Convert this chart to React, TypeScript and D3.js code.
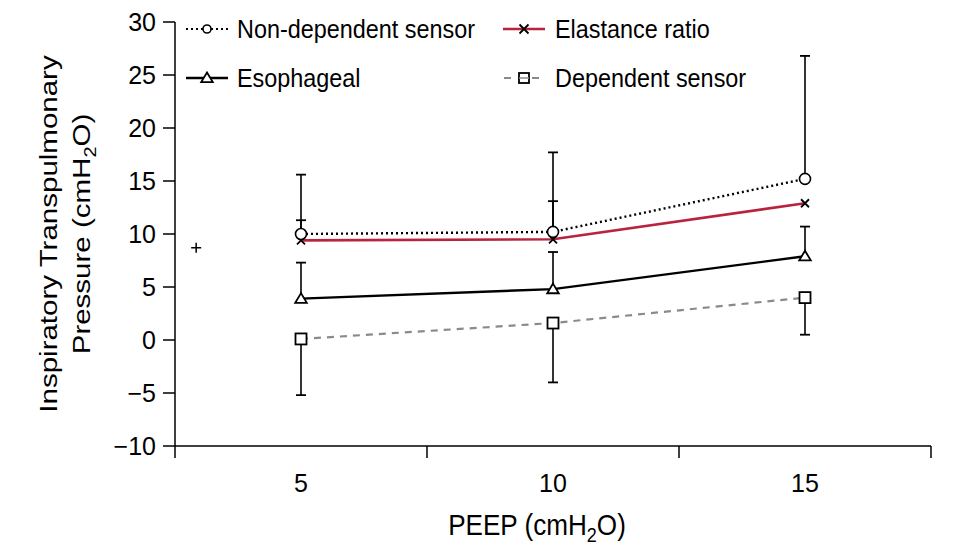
import React from "react";
import * as d3 from "d3";

const peep = [5, 10, 15];
const nonDependent = [10.0, 10.2, 15.2];
const nonDependentErrUp = [5.6, 7.5, 11.6];
const elastance = [9.4, 9.5, 12.9];
const elastanceErrUp = [1.9, 3.6, 0];
const esophageal = [3.9, 4.8, 7.9];
const esophagealErrUp = [3.4, 3.5, 2.8];
const dependent = [0.1, 1.6, 4.0];
const dependentErrDown = [5.3, 5.6, 3.5];
const yTicks = [-10, -5, 0, 5, 10, 15, 20, 25, 30];
const xBoundaryTicks = [2.5, 7.5, 12.5, 17.5];
const strayMark = { x: 2.92, y: 8.7 };

const W = 960;
const H = 555;
const FONT = "'Liberation Sans', Arial, Helvetica, sans-serif";
const RED = "#b8233d";
const GRAY = "#8a8a8a";

export default function App() {
  const x = d3.scaleLinear().domain([2.5, 17.5]).range([175, 931]);
  const y = d3.scaleLinear().domain([-10, 30]).range([446, 22]);

  const line = (vals: number[]) =>
    d3
      .line<number>()
      .x((_, i) => x(peep[i]))
      .y((v) => y(v))(vals) as string;

  const errBars: { xv: number; y0: number; y1: number }[] = [];
  peep.forEach((p, i) => {
    errBars.push({ xv: p, y0: nonDependent[i], y1: nonDependent[i] + nonDependentErrUp[i] });
    if (elastanceErrUp[i] > 0)
      errBars.push({ xv: p, y0: elastance[i], y1: elastance[i] + elastanceErrUp[i] });
    errBars.push({ xv: p, y0: esophageal[i], y1: esophageal[i] + esophagealErrUp[i] });
    errBars.push({ xv: p, y0: dependent[i], y1: dependent[i] - dependentErrDown[i] });
  });

  const circle = (cx: number, cy: number, r: number) => (
    <circle cx={cx} cy={cy} r={r} fill="white" stroke="black" strokeWidth={1.6} />
  );
  const cross = (cx: number, cy: number, s: number, color = "black") => (
    <path
      d={`M${cx - s},${cy - s}L${cx + s},${cy + s}M${cx - s},${cy + s}L${cx + s},${cy - s}`}
      stroke={color}
      strokeWidth={1.8}
      fill="none"
    />
  );
  const tri = (cx: number, cy: number, s: number) => (
    <path
      d={`M${cx},${cy - s}L${cx + s * 1.05},${cy + s * 0.75}L${cx - s * 1.05},${cy + s * 0.75}Z`}
      fill="white"
      stroke="black"
      strokeWidth={1.8}
    />
  );
  const square = (cx: number, cy: number, s: number) => (
    <rect x={cx - s} y={cy - s} width={2 * s} height={2 * s} fill="white" stroke="black" strokeWidth={1.8} />
  );
  const sText = (
    tx: number,
    ty: number,
    content: React.ReactNode,
    size: number,
    sx: number,
    anchor: string = "start"
  ) => (
    <g transform={`translate(${tx},${ty}) scale(${sx},1)`}>
      <text x={0} y={0} dy="0.36em" fontSize={size} textAnchor={anchor}>
        {content}
      </text>
    </g>
  );

  return (
    <svg
      width={W}
      height={H}
      style={{ position: "absolute", left: 0, top: 0, background: "white" }}
      fontFamily={FONT}
    >
      <rect width={W} height={H} fill="white" />
      {/* axes */}
      <line x1={175} x2={175} y1={y(30)} y2={y(-10)} stroke="black" strokeWidth={1.5} />
      <line x1={x(2.5)} x2={x(17.5)} y1={y(-10)} y2={y(-10)} stroke="black" strokeWidth={1.5} />
      {yTicks.map((t) => (
        <g key={t}>
          <line x1={163} x2={175} y1={y(t)} y2={y(t)} stroke="black" strokeWidth={1.5} />
          <text x={156} y={y(t)} dy="0.36em" textAnchor="end" fontSize={25}>
            {t < 0 ? "\u2212" + Math.abs(t) : t}
          </text>
        </g>
      ))}
      {xBoundaryTicks.map((t) => (
        <line key={t} x1={x(t)} x2={x(t)} y1={y(-10)} y2={y(-10) + 12} stroke="black" strokeWidth={1.5} />
      ))}
      {peep.map((p) => (
        <text key={p} x={x(p)} y={492} textAnchor="middle" fontSize={25}>
          {p}
        </text>
      ))}
      <g transform="translate(537,535) scale(0.9,1)">
        <text x={0} y={0} textAnchor="middle" fontSize={29}>
          PEEP (cmH
          <tspan fontSize={20} dy={7}>2</tspan>
          <tspan dy={-7}>O)</tspan>
        </text>
      </g>
      {/* y title */}
      <g transform="translate(57,234) rotate(-90) scale(1,0.82)">
        <text x={0} y={0} textAnchor="middle" fontSize={29.5}>
          Inspiratory Transpulmonary
        </text>
        <text x={0} y={40} textAnchor="middle" fontSize={29.5}>
          Pressure (cmH
          <tspan fontSize={20} dy={7}>2</tspan>
          <tspan dy={-7}>O)</tspan>
        </text>
      </g>

      {/* error bars */}
      {errBars.map((e, i) => (
        <g key={i}>
          <line x1={x(e.xv)} x2={x(e.xv)} y1={y(e.y0)} y2={y(e.y1)} stroke="black" strokeWidth={1.6} />
          <line x1={x(e.xv) - 5} x2={x(e.xv) + 5} y1={y(e.y1)} y2={y(e.y1)} stroke="black" strokeWidth={1.8} />
        </g>
      ))}

      {/* lines */}
      <path d={line(dependent)} fill="none" stroke={GRAY} strokeWidth={2.2} strokeDasharray="7,6" />
      <path d={line(esophageal)} fill="none" stroke="black" strokeWidth={2.4} />
      <path d={line(nonDependent)} fill="none" stroke="black" strokeWidth={2.4} strokeDasharray="2,3" />
      <path d={line(elastance)} fill="none" stroke={RED} strokeWidth={2.6} />

      {/* markers */}
      {peep.map((p, i) => (
        <g key={p}>
          {square(x(p), y(dependent[i]), 5.5)}
          {tri(x(p), y(esophageal[i]), 5.5)}
          {cross(x(p), y(elastance[i]), 4)}
          {circle(x(p), y(nonDependent[i]), 5.5)}
        </g>
      ))}

      {/* stray mark */}
      {(() => {
        const cx = x(strayMark.x);
        const cy = y(strayMark.y);
        return (
          <path d={`M${cx - 5},${cy}L${cx + 5},${cy}M${cx},${cy - 5}L${cx},${cy + 5}`} stroke="black" strokeWidth={1.5} />
        );
      })()}

      {/* legend */}
      <g>
        <line x1={186} x2={228} y1={29} y2={29} stroke="black" strokeWidth={2} strokeDasharray="2,3" />
        {circle(207, 29, 4)}
        {sText(237, 29, "Non-dependent sensor", 26, 0.9)}

        <line x1={186} x2={228} y1={78} y2={78} stroke="black" strokeWidth={2.4} />
        {tri(207, 78, 5.5)}
        {sText(237, 78, "Esophageal", 26, 0.9)}

        <line x1={503} x2={545} y1={29} y2={29} stroke={RED} strokeWidth={2.6} />
        {cross(524, 29, 4.5)}
        {sText(555, 29, "Elastance ratio", 26, 0.9)}

        <line x1={503} x2={545} y1={78} y2={78} stroke={GRAY} strokeWidth={2} strokeDasharray="7,7" strokeDashoffset={-1} />
        {square(524, 78, 5)}
        <line x1={519} x2={529} y1={78} y2={78} stroke={GRAY} strokeWidth={1.5} />
        {sText(555, 78, "Dependent sensor", 26, 0.9)}
      </g>
    </svg>
  );
}
